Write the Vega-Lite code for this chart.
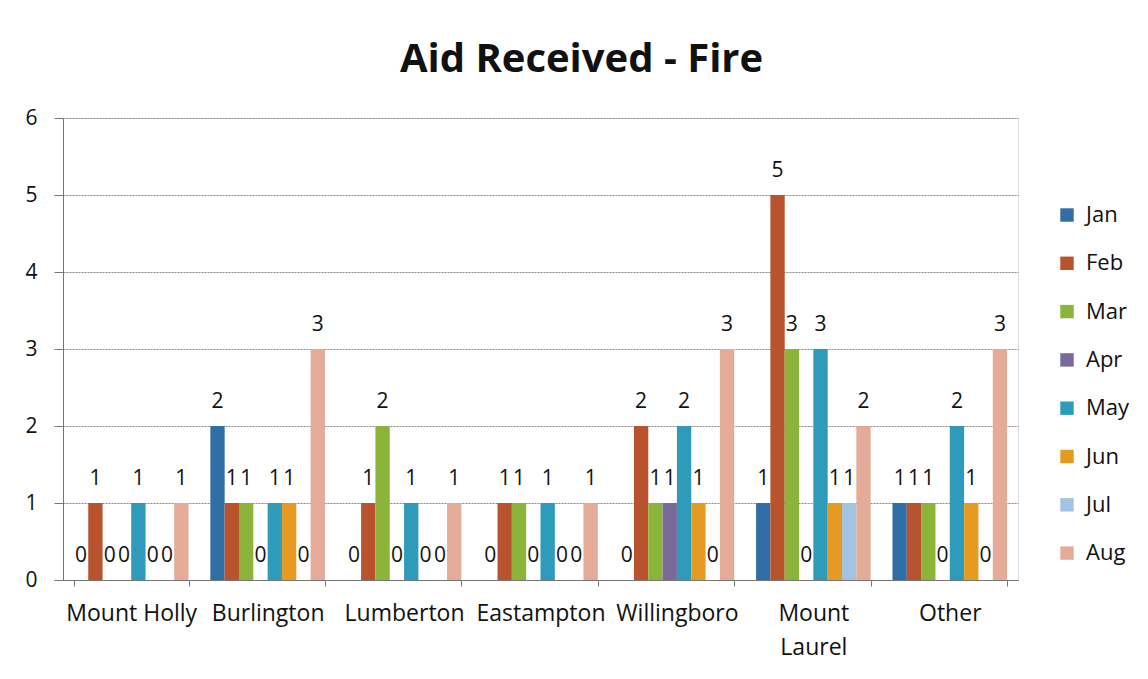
{
  "$schema": "https://vega.github.io/schema/vega-lite/v6.json",
  "autosize": "none",
  "width": 955,
  "height": 462,
  "padding": {"left": 63, "top": 118, "right": 130, "bottom": 99},
  "background": "white",
  "title": {"text": "Aid Received - Fire", "fontSize": 40, "font": "Open Sans", "fontWeight": "bold", "color": "#111", "offset": 27, "dx": 41},
  "data": {"values": [
    {"town": "Mount Holly", "month": "Jan", "value": 0},
    {"town": "Mount Holly", "month": "Feb", "value": 1},
    {"town": "Mount Holly", "month": "Mar", "value": 0},
    {"town": "Mount Holly", "month": "Apr", "value": 0},
    {"town": "Mount Holly", "month": "May", "value": 1},
    {"town": "Mount Holly", "month": "Jun", "value": 0},
    {"town": "Mount Holly", "month": "Jul", "value": 0},
    {"town": "Mount Holly", "month": "Aug", "value": 1},
    {"town": "Burlington", "month": "Jan", "value": 2},
    {"town": "Burlington", "month": "Feb", "value": 1},
    {"town": "Burlington", "month": "Mar", "value": 1},
    {"town": "Burlington", "month": "Apr", "value": 0},
    {"town": "Burlington", "month": "May", "value": 1},
    {"town": "Burlington", "month": "Jun", "value": 1},
    {"town": "Burlington", "month": "Jul", "value": 0},
    {"town": "Burlington", "month": "Aug", "value": 3},
    {"town": "Lumberton", "month": "Jan", "value": 0},
    {"town": "Lumberton", "month": "Feb", "value": 1},
    {"town": "Lumberton", "month": "Mar", "value": 2},
    {"town": "Lumberton", "month": "Apr", "value": 0},
    {"town": "Lumberton", "month": "May", "value": 1},
    {"town": "Lumberton", "month": "Jun", "value": 0},
    {"town": "Lumberton", "month": "Jul", "value": 0},
    {"town": "Lumberton", "month": "Aug", "value": 1},
    {"town": "Eastampton", "month": "Jan", "value": 0},
    {"town": "Eastampton", "month": "Feb", "value": 1},
    {"town": "Eastampton", "month": "Mar", "value": 1},
    {"town": "Eastampton", "month": "Apr", "value": 0},
    {"town": "Eastampton", "month": "May", "value": 1},
    {"town": "Eastampton", "month": "Jun", "value": 0},
    {"town": "Eastampton", "month": "Jul", "value": 0},
    {"town": "Eastampton", "month": "Aug", "value": 1},
    {"town": "Willingboro", "month": "Jan", "value": 0},
    {"town": "Willingboro", "month": "Feb", "value": 2},
    {"town": "Willingboro", "month": "Mar", "value": 1},
    {"town": "Willingboro", "month": "Apr", "value": 1},
    {"town": "Willingboro", "month": "May", "value": 2},
    {"town": "Willingboro", "month": "Jun", "value": 1},
    {"town": "Willingboro", "month": "Jul", "value": 0},
    {"town": "Willingboro", "month": "Aug", "value": 3},
    {"town": "Mount Laurel", "month": "Jan", "value": 1},
    {"town": "Mount Laurel", "month": "Feb", "value": 5},
    {"town": "Mount Laurel", "month": "Mar", "value": 3},
    {"town": "Mount Laurel", "month": "Apr", "value": 0},
    {"town": "Mount Laurel", "month": "May", "value": 3},
    {"town": "Mount Laurel", "month": "Jun", "value": 1},
    {"town": "Mount Laurel", "month": "Jul", "value": 1},
    {"town": "Mount Laurel", "month": "Aug", "value": 2},
    {"town": "Other", "month": "Jan", "value": 1},
    {"town": "Other", "month": "Feb", "value": 1},
    {"town": "Other", "month": "Mar", "value": 1},
    {"town": "Other", "month": "Apr", "value": 0},
    {"town": "Other", "month": "May", "value": 2},
    {"town": "Other", "month": "Jun", "value": 1},
    {"town": "Other", "month": "Jul", "value": 0},
    {"town": "Other", "month": "Aug", "value": 3}
  ]},
  "encoding": {
    "x": {
      "field": "town", "type": "nominal", "sort": null, "title": null,
      "scale": {"paddingInner": 0.16, "paddingOuter": 0.08},
      "axis": {
        "labelAngle": 0, "labelFontSize": 23, "labelFont": "Open Sans", "labelColor": "#111",
        "labelPadding": 16, "labelLineHeight": 34,
        "labelExpr": "datum.label == 'Mount Laurel' ? ['Mount', 'Laurel'] : datum.label",
        "tickBand": "extent", "tickSize": 6, "tickColor": "#777", "domainColor": "#777", "grid": false
      }
    },
    "xOffset": {"field": "month", "type": "nominal", "sort": ["Jan","Feb","Mar","Apr","May","Jun","Jul","Aug"]},
    "y": {
      "field": "value", "type": "quantitative", "title": null,
      "scale": {"domain": [0, 6]},
      "axis": {
        "values": [0,1,2,3,4,5,6], "labelFontSize": 21, "labelFont": "Open Sans", "labelColor": "#111",
        "labelPadding": 17, "ticks": true, "tickSize": 9, "tickColor": "#777", "domainColor": "#777",
        "grid": true, "gridColor": "#888", "gridDash": [2, 1], "gridWidth": 1
      }
    }
  },
  "layer": [
    {
      "mark": {"type": "bar"},
      "encoding": {
        "color": {
          "field": "month", "type": "nominal",
          "scale": {
            "domain": ["Jan","Feb","Mar","Apr","May","Jun","Jul","Aug"],
            "range": ["#2F6EA6","#B9532D","#8CB33A","#7A6A9A","#2E9BBA","#E79A22","#A2C4E2","#E4AC98"]
          },
          "legend": {
            "title": null, "orient": "none", "legendX": 993, "legendY": 86,
            "symbolType": "square", "symbolSize": 180, "symbolStrokeWidth": 0,
            "labelFontSize": 22, "labelFont": "Open Sans", "labelColor": "#111",
            "rowPadding": 26.3, "labelOffset": 8
          }
        }
      }
    },
    {
      "mark": {"type": "text", "fontSize": 21, "font": "Open Sans", "color": "#111", "baseline": "alphabetic", "dy": -18},
      "encoding": {"text": {"field": "value", "type": "quantitative"}}
    }
  ]
}
